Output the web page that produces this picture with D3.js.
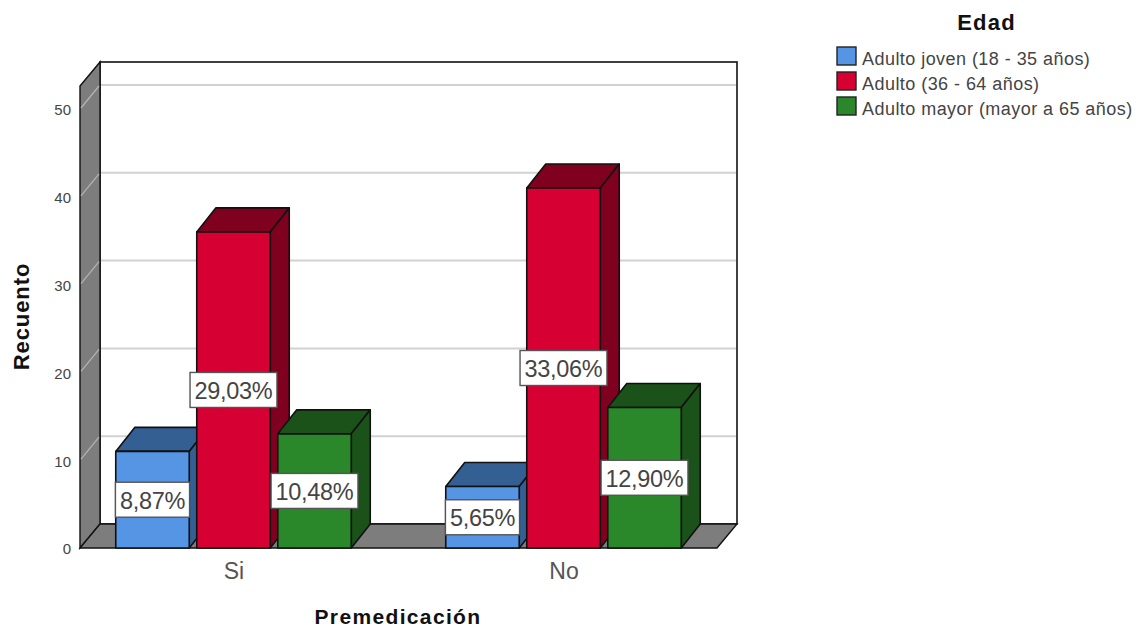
<!DOCTYPE html>
<html>
<head>
<meta charset="utf-8">
<script src="https://cdn.jsdelivr.net/npm/d3@7"></script>
<style>
html,body{margin:0;padding:0;background:#fff}
svg{display:block}
text{font-family:"Liberation Sans",Arial,sans-serif}
</style>
</head>
<body>
<svg id="chart" width="1145" height="628"></svg>
<script>
// Counts per premedication group and age bracket
const categories = ["Si", "No"];
const seriesNames = ["Adulto joven (18 - 35 años)", "Adulto (36 - 64 años)", "Adulto mayor (mayor a 65 años)"];
const jovenCounts = [11, 7];
const adultoCounts = [36, 41];
const mayorCounts = [13, 16];
const totalCases = 124;
const valueTicks = [0, 10, 20, 30, 40, 50];

const frontColors = ["#5595e4", "#d60032", "#2a872a"];
const topColors = ["#345f93", "#80001f", "#1a5219"];
const seriesValues = [jovenCounts, adultoCounts, mayorCounts];

const svg = d3.select("#chart");

// Front plane of the pseudo-3D box and the depth offset to the back wall
const left = 80, right = 717, floorY = 548, topY = 86;
const depthX = 20, depthY = -24;
const barDepthX = 19;

const y = d3.scaleLinear().domain([0, 50]).range([floorY, floorY - 439]);
const x = d3.scalePoint().domain(categories).range([233.5, 563.5]);
const seriesX = d3.scaleBand().domain(d3.range(3)).range([-117.75, 117.75]).paddingInner(0.093).paddingOuter(0);

const poly = pts => pts.map(p => p.join(",")).join(" ");
const edge = "#111";

// Back wall
svg.append("rect")
  .attr("x", left + depthX).attr("y", topY + depthY)
  .attr("width", right - left).attr("height", floorY - topY)
  .attr("fill", "#fff").attr("stroke", edge).attr("stroke-width", 1.6);

// Left wall and floor
svg.append("polygon")
  .attr("points", poly([[left, topY], [left + depthX, topY + depthY], [left + depthX, floorY + depthY], [left, floorY]]))
  .attr("fill", "#7d7d7d").attr("stroke", edge).attr("stroke-width", 1.4);
svg.append("polygon")
  .attr("points", poly([[left, floorY], [right, floorY], [right + depthX, floorY + depthY], [left + depthX, floorY + depthY]]))
  .attr("fill", "#7d7d7d").attr("stroke", edge).attr("stroke-width", 1.4);

// Gridlines run across the back wall and fold down the left wall
const gridTicks = valueTicks.filter(d => d > 0);
svg.append("g").selectAll("line.back").data(gridTicks).join("line")
  .attr("x1", left + depthX + 1).attr("x2", right + depthX - 1)
  .attr("y1", d => y(d) + depthY).attr("y2", d => y(d) + depthY)
  .attr("stroke", "#d2d2d2").attr("stroke-width", 2);
svg.append("g").selectAll("line.side").data(gridTicks).join("line")
  .attr("x1", left + 1).attr("x2", left + depthX - 1)
  .attr("y1", d => y(d) - 1).attr("y2", d => y(d) + depthY + 1)
  .attr("stroke", "#b5b5b5").attr("stroke-width", 1.2);

// Bars: front face, top and side
const bars = [];
categories.forEach((c, ci) => seriesValues.forEach((vals, si) => bars.push({c, si, v: vals[ci]})));

const barG = svg.append("g").selectAll("g").data(bars).join("g");
barG.each(function(d) {
  const g = d3.select(this);
  const x0 = x(d.c) + seriesX(d.si), x1 = x0 + seriesX.bandwidth();
  const yt = y(d.v), yb = y(0);
  const add = (pts, fill) => g.append("polygon").attr("points", poly(pts)).attr("fill", fill)
    .attr("stroke", edge).attr("stroke-width", 1.6).attr("stroke-linejoin", "round");
  add([[x0, yt], [x0 + barDepthX, yt + depthY], [x1 + barDepthX, yt + depthY], [x1, yt]], topColors[d.si]);
  add([[x1, yt], [x1 + barDepthX, yt + depthY], [x1 + barDepthX, yb + depthY], [x1, yb]], topColors[d.si]);
  add([[x0, yt], [x1, yt], [x1, yb], [x0, yb]], frontColors[d.si]);
});

// Percentage labels, centred on the height of each bar
const fmtPct = v => (v / totalCases * 100).toFixed(2).replace(".", ",") + "%";
const labelG = svg.append("g").selectAll("g").data(bars).join("g")
  .attr("transform", d => `translate(${x(d.c) + seriesX(d.si) + seriesX.bandwidth() / 2},${(y(d.v) + y(0)) / 2})`);
labelG.append("rect").attr("class", "box")
  .attr("y", -17.5).attr("height", 35)
  .attr("fill", "#fff").attr("stroke", "#555").attr("stroke-width", 1.4);
labelG.append("text")
  .attr("text-anchor", "middle").attr("y", 9)
  .attr("font-size", 23.5).attr("letter-spacing", -0.3).attr("fill", "#444")
  .text(d => fmtPct(d.v));
labelG.each(function() {
  const g = d3.select(this);
  const w = g.select("text").node().getComputedTextLength();
  g.select("rect").attr("x", -w / 2 - 4.5).attr("width", w + 9);
});

// Value axis
const yAxis = d3.axisLeft(y).tickValues(valueTicks).tickSize(0).tickPadding(0).tickFormat(d3.format("d"));
const yG = svg.append("g").attr("transform", "translate(71,1)").call(yAxis);
yG.select(".domain").remove();
yG.selectAll("text").attr("font-size", 15).attr("fill", "#444").attr("font-family", '"Liberation Sans",Arial,sans-serif');

// Category axis
const xAxis = d3.axisBottom(x).tickSize(0).tickPadding(0);
const xG = svg.append("g").attr("transform", "translate(0,563)").call(xAxis);
xG.select(".domain").remove();
xG.selectAll("text").attr("font-size", 23).attr("fill", "#555").attr("font-family", '"Liberation Sans",Arial,sans-serif');

// Axis titles
svg.append("text").attr("x", 398).attr("y", 623.5).attr("text-anchor", "middle")
  .attr("font-size", 21).attr("letter-spacing", 1.35).attr("font-weight", "bold").attr("fill", "#111").text("Premedicación");
svg.append("text").attr("transform", "translate(29,316.5) rotate(-90)").attr("text-anchor", "middle")
  .attr("font-size", 22).attr("letter-spacing", 0.9).attr("font-weight", "bold").attr("fill", "#111").text("Recuento");

// Legend
svg.append("text").attr("x", 986.5).attr("y", 30).attr("text-anchor", "middle")
  .attr("font-size", 22).attr("letter-spacing", 1.2).attr("font-weight", "bold").attr("fill", "#111").text("Edad");
const legend = svg.append("g").selectAll("g").data(seriesNames).join("g")
  .attr("transform", (d, i) => `translate(837,${47 + i * 25})`);
legend.append("rect").attr("width", 19).attr("height", 18)
  .attr("fill", (d, i) => frontColors[i]).attr("stroke", "#222").attr("stroke-width", 1.4);
legend.append("text").attr("x", 25).attr("y", 18)
  .attr("font-size", 18).attr("letter-spacing", 0.45).attr("fill", "#444").text(d => d);
</script>
</body>
</html>
